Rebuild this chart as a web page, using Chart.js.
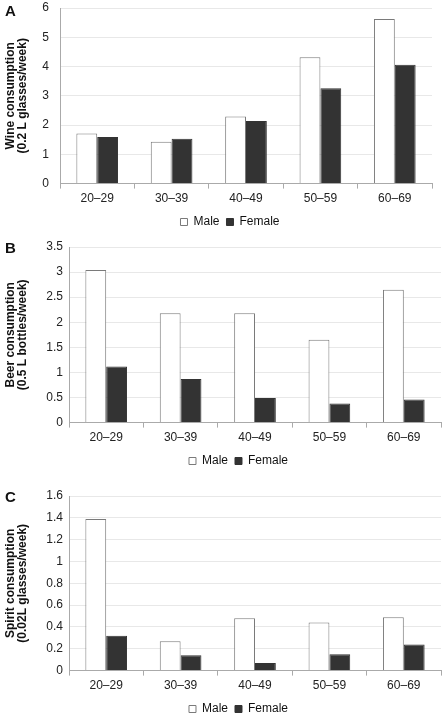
<!DOCTYPE html>
<html>
<head>
<meta charset="utf-8">
<script src="https://cdn.jsdelivr.net/npm/chart.js@4.4.1/dist/chart.umd.min.js"></script>
<style>
  body { margin: 0; background: #fff; width: 442px; height: 714px; overflow: hidden; position: relative; }
  .panel { position: absolute; left: 0; width: 442px; height: 260px; }
  .letter { position: absolute; left: 5px; font: bold 15px "Liberation Sans", Arial, sans-serif; line-height: 15px; color: #111; }
</style>
</head>
<body>
<div class="panel" style="top:0"><canvas id="wineChart"></canvas></div>
<div class="panel" style="top:230px"><canvas id="beerChart"></canvas></div>
<div class="panel" style="top:470px"><canvas id="spiritChart"></canvas></div>
<div class="letter" style="top:3px">A</div>
<div class="letter" style="top:240px">B</div>
<div class="letter" style="top:489px">C</div>
<script>
var ageGroups = ['20–29', '30–39', '40–49', '50–59', '60–69'];

var wineMale = [1.71, 1.43, 2.29, 4.32, 5.62];
var wineFemale = [1.59, 1.53, 2.14, 3.26, 4.06];
var wineTicks = [0, 1, 2, 3, 4, 5, 6];
var wineTitle = ['Wine consumption', '(0.2 L glasses/week)'];

var beerMale = [3.04, 2.18, 2.18, 1.65, 2.65];
var beerFemale = [1.12, 0.87, 0.49, 0.38, 0.46];
var beerTicks = [0, 0.5, 1, 1.5, 2, 2.5, 3, 3.5];
var beerTitle = ['Beer consumption', '(0.5 L bottles/week)'];

var spiritMale = [1.39, 0.27, 0.48, 0.44, 0.49];
var spiritFemale = [0.32, 0.14, 0.07, 0.15, 0.24];
var spiritTicks = [0, 0.2, 0.4, 0.6, 0.8, 1, 1.2, 1.4, 1.6];
var spiritTitle = ['Spirit consumption', '(0.02L glasses/week)'];

var font = '"Liberation Sans", Arial, sans-serif';

// moves the legend sideways, the original is not centred on the canvas
var legendShift = {
    id: 'legendShift',
    afterLayout: function (chart, args, opts) {
        chart.legend.left += opts.dx;
        chart.legend.right += opts.dx;
    }
};

function drawPanel(id, male, female, ticks, title, axisX, tickPad, pad, dx) {
    var config = {
        type: 'bar',
        data: {
            labels: ageGroups,
            datasets: [{
                label: 'Male',
                data: male,
                backgroundColor: '#ffffff',
                borderColor: '#7a7a7a',
                borderWidth: 1,
                categoryPercentage: 0.56,
                barPercentage: 1
            }, {
                label: 'Female',
                data: female,
                backgroundColor: '#333333',
                borderColor: '#333333',
                borderWidth: 1,
                categoryPercentage: 0.56,
                barPercentage: 1
            }]
        },
        options: {
            responsive: true,
            maintainAspectRatio: false,
            animation: false,
            layout: { padding: pad },
            scales: {
                x: {
                    grid: { drawOnChartArea: false, drawTicks: true, tickLength: 5, color: '#aaaaaa', offset: true },
                    border: { color: '#aaaaaa' },
                    ticks: { color: '#222', padding: 3, font: { family: font, size: 12 } }
                },
                y: {
                    min: ticks[0],
                    max: ticks[ticks.length - 1],
                    afterBuildTicks: function (s) {
                        s.ticks = ticks.map(function (v) { return { value: v }; });
                    },
                    afterFit: function (s) {
                        s.width = axisX;
                        s.paddingTop = 7;
                        s.paddingBottom = 7;
                    },
                    grid: { color: '#e8e8e8', drawTicks: false },
                    border: { color: '#aaaaaa' },
                    ticks: {
                        color: '#222',
                        padding: tickPad,
                        font: { family: font, size: 12 },
                        callback: function (v) { return String(v); }
                    },
                    title: {
                        display: true,
                        text: title,
                        color: '#111',
                        padding: { top: 5, bottom: 0 },
                        font: { family: font, size: 12, weight: 'bold', lineHeight: 1 }
                    }
                }
            },
            plugins: {
                legend: {
                    position: 'bottom',
                    labels: { boxWidth: 7, boxHeight: 7, padding: 7, color: '#111', font: { family: font, size: 12 } }
                },
                tooltip: { enabled: false },
                legendShift: { dx: dx }
            }
        },
        plugins: [legendShift]
    };
    return new Chart(document.getElementById(id), config);
}

drawPanel('wineChart', wineMale, wineFemale, wineTicks, wineTitle, 60, 11, { top: 8, right: 10, bottom: 22, left: 0 }, 14);
drawPanel('beerChart', beerMale, beerFemale, beerTicks, beerTitle, 69, 6, { top: 17, right: 1, bottom: 13, left: 0 }, 18);
drawPanel('spiritChart', spiritMale, spiritFemale, spiritTicks, spiritTitle, 69, 6, { top: 26, right: 1, bottom: 5, left: 0 }, 18);
</script>
</body>
</html>
